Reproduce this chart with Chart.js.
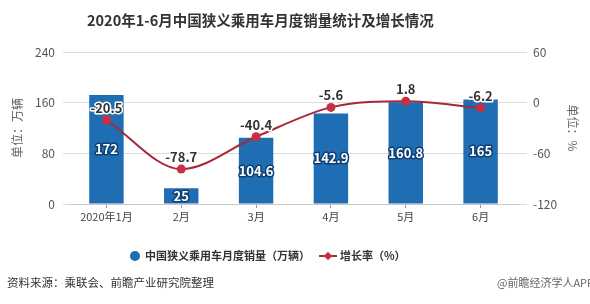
<!DOCTYPE html>
<html><head><meta charset="utf-8">
<script src="https://cdn.jsdelivr.net/npm/chart.js@4.4.1/dist/chart.umd.min.js"></script>
<style>
html,body{margin:0;padding:0;background:#fff;}
#wrap{position:relative;width:590px;height:304px;overflow:hidden;font-family:"Noto Sans CJK SC","Noto Sans",sans-serif;}
#c{position:absolute;left:0;top:0;}
.t{position:absolute;white-space:nowrap;}
#title{left:87px;top:9px;font-size:14.5px;font-weight:bold;color:#333;}
#lg1{left:130px;top:247px;font-size:11px;font-weight:bold;color:#333;}
#lg2{left:319px;top:247px;font-size:11px;font-weight:bold;color:#333;}
.dot{display:inline-block;width:10px;height:10px;border-radius:50%;background:#1f6db3;vertical-align:-1px;margin-right:5px;}
.ln{display:inline-block;position:relative;width:18px;height:10px;margin-right:3px;vertical-align:-1px;}
.ln:before{content:"";position:absolute;left:0;top:4px;width:18px;height:2px;background:#b02a3a;}
.ln:after{content:"";position:absolute;left:6px;top:2px;width:6px;height:6px;background:#c62f3e;transform:rotate(45deg);}
#src{left:7px;top:274px;font-size:11.5px;color:#333;}
#app{left:497px;top:274px;font-size:11px;color:#666;}
</style></head>
<body><div id="wrap">
<canvas id="c" width="590" height="304"></canvas>
<div class="t" id="title">2020年1-6月中国狭义乘用车月度销量统计及增长情况</div>
<div class="t" id="lg1"><span class="dot"></span>中国狭义乘用车月度销量（万辆）</div>
<div class="t" id="lg2"><span class="ln"></span>增长率（%）</div>
<div class="t" id="src">资料来源：乘联会、前瞻产业研究院整理</div>
<div class="t" id="app">@前瞻经济学人APP</div>
</div>
<script>
const categories = ["2020年1月","2月","3月","4月","5月","6月"];
const sales = [172, 25, 104.6, 142.9, 160.8, 165];
const growth = [-20.5, -78.7, -40.4, -5.6, 1.8, -6.2];
const leftTicks = [0, 80, 160, 240];
const rightTicks = [-120, -60, 0, 60];

const FONT = '"Noto Sans CJK SC","Noto Sans",sans-serif';

const labelPlugin = {
  id: 'labels',
  afterDatasetsDraw(chart) {
    const ctx = chart.ctx;
    ctx.save();
    ctx.textAlign = 'center';
    ctx.textBaseline = 'middle';
    ctx.lineJoin = 'round';
    // bar labels
    const bm = chart.getDatasetMeta(1);
    bm.data.forEach((el, i) => {
      const y = (el.y + el.base) / 2;
      ctx.font = 'bold 13px ' + FONT;
      ctx.lineWidth = 3;
      ctx.strokeStyle = '#0e3f73';
      ctx.strokeText(String(sales[i]), el.x, y);
      ctx.fillStyle = '#ffffff';
      ctx.fillText(String(sales[i]), el.x, y);
    });
    const lm = chart.getDatasetMeta(0);
    lm.data.forEach((el, i) => {
      const y = el.y - 12;
      const s = String(growth[i]);
      ctx.font = 'bold 13px ' + FONT;
      ctx.lineWidth = 3;
      ctx.strokeStyle = '#ffffff';
      ctx.strokeText(s, el.x, y);
      ctx.fillStyle = '#333333';
      ctx.fillText(s, el.x, y);
    });
    ctx.restore();
  }
};

new Chart(document.getElementById('c'), {
  data: {
    labels: categories,
    datasets: [
      {
        type: 'line', label: '增长率（%）', data: growth, yAxisID: 'y1', order: 0,
        borderColor: '#a8283a', borderWidth: 2, tension: 0.4, cubicInterpolationMode: 'monotone',
        pointRadius: 4.5, pointBackgroundColor: '#c92f40', pointBorderColor: '#c92f40', pointBorderWidth: 0
      },
      {
        type: 'bar', label: '中国狭义乘用车月度销量（万辆）', data: sales, yAxisID: 'y', order: 1,
        backgroundColor: '#1f6db3', barPercentage: 0.46, categoryPercentage: 1
      }
    ]
  },
  options: {
    responsive: false, animation: false, devicePixelRatio: 1,
    layout: { padding: { top: 52, bottom: 72, left: 0, right: 0 } },
    plugins: { legend: { display: false }, tooltip: { enabled: false }, title: { display: false } },
    scales: {
      x: {
        afterFit(s) { s.height = 28; },
        grid: { display: true, drawOnChartArea: false, drawTicks: true, tickLength: 4, offset: false, color: '#999' },
        border: { display: true, color: '#c8c8c8' },
        ticks: { color: '#444', font: { size: 11, family: FONT }, padding: 2 }
      },
      y: {
        position: 'left', min: 0, max: 240,
        afterFit(s) { s.width = 69; },
        afterBuildTicks(s) { s.ticks = leftTicks.map(v => ({ value: v })); },
        grid: { color: '#dddddd', tickLength: 6, drawTicks: true },
        border: { display: false },
        ticks: { color: '#555', font: { size: 12, family: FONT }, padding: 8 },
        title: { display: true, text: '单位：万辆', color: '#666', font: { size: 12, family: FONT }, padding: { top: 10, bottom: 0 } }
      },
      y1: {
        position: 'right', min: -120, max: 60,
        afterFit(s) { s.width = 72; },
        afterBuildTicks(s) { s.ticks = rightTicks.map(v => ({ value: v })); },
        grid: { drawOnChartArea: false, color: '#dddddd', tickLength: 9, drawTicks: true },
        border: { display: false },
        ticks: { color: '#555', font: { size: 12, family: FONT }, padding: 6 },
        title: { display: true, text: '单位：%', color: '#666', font: { size: 12, family: FONT }, padding: { top: 10, bottom: 0 } }
      }
    }
  },
  plugins: [labelPlugin]
});
</script>
</body></html>
